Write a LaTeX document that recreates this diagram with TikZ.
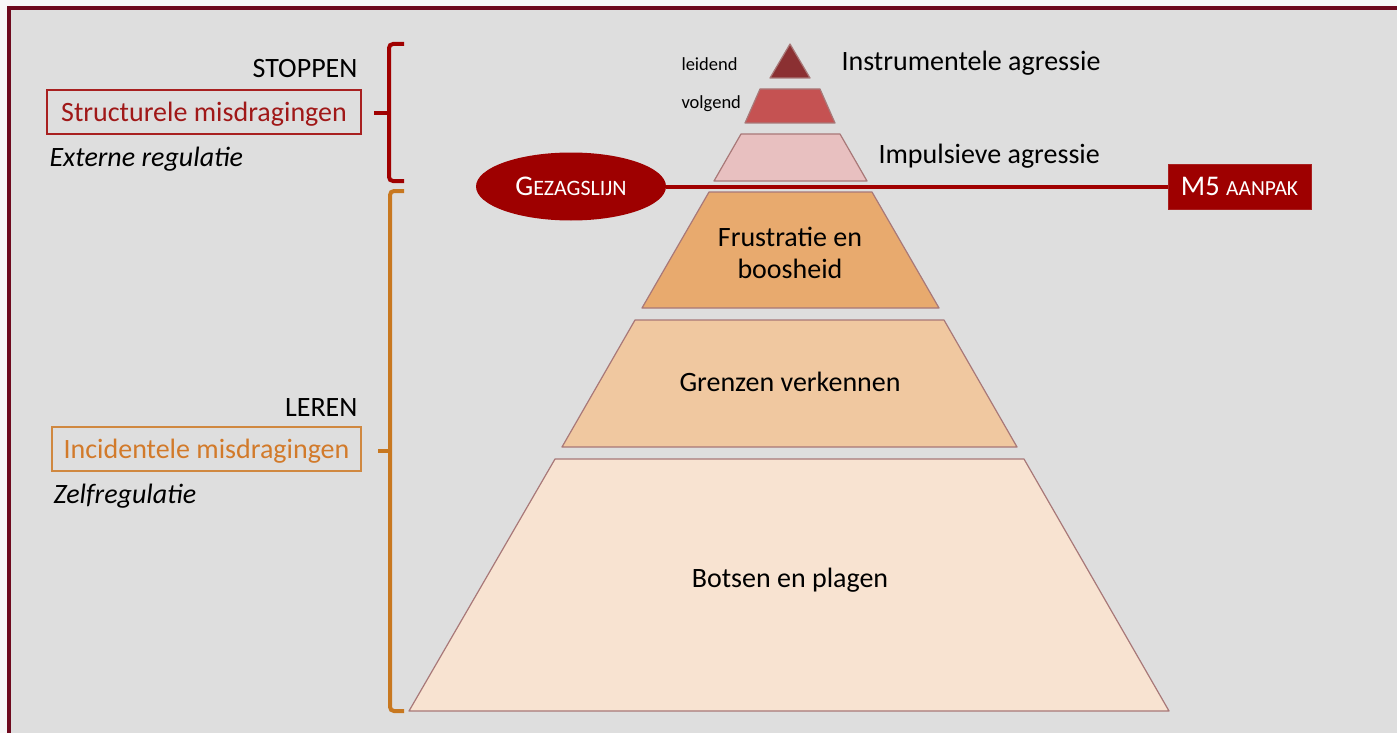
\documentclass[tikz,border=0pt]{standalone}
\usepackage{fontspec}
\setmainfont{Carlito}
\usetikzlibrary{shapes.geometric}
\definecolor{outerbg}{HTML}{F8F8F8}
\definecolor{frame}{HTML}{6E0A1E}
\definecolor{innerbg}{HTML}{DEDEDE}
\definecolor{cleid}{HTML}{8B3032}
\definecolor{cvolg}{HTML}{C55252}
\definecolor{cimp}{HTML}{E8C0C0}
\definecolor{cfrus}{HTML}{E8AA6E}
\definecolor{cgren}{HTML}{F0C8A0}
\definecolor{cbots}{HTML}{F8E3D1}
\definecolor{edge}{HTML}{A87878}
\definecolor{dred}{HTML}{9E0000}
\definecolor{bred}{HTML}{A00000}
\definecolor{bora}{HTML}{C87820}
\definecolor{tred}{HTML}{A01818}
\definecolor{tora}{HTML}{D27A2A}
\definecolor{boxred}{HTML}{A82020}
\definecolor{boxora}{HTML}{D08840}
\tikzset{
  layer/.style={draw=edge, line width=1.2pt, line join=round},
  big/.style={font=\fontsize{28}{32}\selectfont},
  bigit/.style={font=\fontsize{28}{32}\selectfont\itshape},
  small/.style={font=\fontsize{18.5}{22}\selectfont},
  bracered/.style={draw=bred, line width=4pt, rounded corners=4pt},
  braceora/.style={draw=bora, line width=4pt, rounded corners=4pt},
}
\begin{document}
\begin{tikzpicture}[x=1pt,y=-1pt]
\useasboundingbox (0,0) rectangle (1397,733);
\fill[outerbg] (0,0) rectangle (1397,733);
\fill[frame] (7,6) rectangle (1397,733);
\fill[innerbg] (11,10) rectangle (1397,733);
% pyramid layers
\filldraw[layer, fill=cleid] (790,44) -- (810,78) -- (770,78) -- cycle;
\filldraw[layer, fill=cvolg] (760,89) -- (820,89) -- (835,123) -- (745,123) -- cycle;
\filldraw[layer, fill=cimp] (741,134) -- (840,134) -- (867,181) -- (714,181) -- cycle;
\filldraw[layer, fill=cfrus] (709,192) -- (872,192) -- (939,308) -- (642,308) -- cycle;
\filldraw[layer, fill=cgren] (635,320) -- (944,320) -- (1017,447) -- (562,447) -- cycle;
\filldraw[layer, fill=cbots] (555,459) -- (1024,459) -- (1169,711) -- (409,711) -- cycle;
% layer texts
\node[small, anchor=west] (leid) at (678,64) {leidend};
\node[small, anchor=west] (volg) at (678,104) {volgend};
\node[big, anchor=west] (instr) at (838,63) {Instrumentele agressie};
\node[big, anchor=west] (impul) at (875,156) {Impulsieve agressie};
\node[big, align=center] (frus) at (790,253) {Frustratie en\\boosheid};
\node[big] (gren) at (790,382) {Grenzen verkennen};
\node[big] (bots) at (790,580) {Botsen en plagen};
% gezagslijn
\node[ellipse, fill=dred, minimum width=190pt, minimum height=68pt, inner sep=0pt, text=white] (gez) at (571,186.5)
  {{\fontsize{28.5}{30}\selectfont G}{\fontsize{22}{26}\selectfont EZAGSLIJN}};
\node[fill=dred, draw=boxred, minimum width=143pt, minimum height=45pt, inner sep=0pt, text=white] (m5) at (1239.5,186.5)
  {{\fontsize{28.5}{30}\selectfont M5 }{\fontsize{21.5}{26}\selectfont AANPAK}};
\draw[bred, line width=4pt] (gez.east) -- (m5.west);
% braces
\coordinate (rt) at (404,44);
\coordinate (rb) at (404,181);
\coordinate (rm) at (374,113);
\draw[bracered] (rt) -- (389,44) -- (389,181) -- (rb);
\draw[draw=bred, line width=4pt] (389,113) -- (rm);
\coordinate (ot) at (404,191);
\coordinate (ob) at (404,711);
\coordinate (om) at (378,451);
\draw[braceora] (ot) -- (390,191) -- (390,711) -- (ob);
\draw[draw=bora, line width=4pt] (390,451) -- (om);
% left labels
\node[big, anchor=east] (stop) at (361,69) {STOPPEN};
\node[draw=boxred, line width=1.2pt, minimum width=314pt, minimum height=44pt, inner sep=0pt] (struct) at (204,112) {};
\node[big, text=tred] (structt) at (204,114) {Structurele misdragingen};
\node[bigit, anchor=west] (ext) at (46,159) {Externe regulatie};
\node[big, anchor=east] (leren) at (361,408) {LEREN};
\node[draw=boxora, line width=1.2pt, minimum width=309pt, minimum height=44pt, inner sep=0pt] (incid) at (206.5,449) {};
\node[big, text=tora] (incidt) at (206.5,451) {Incidentele misdragingen};
\node[bigit, anchor=west] (zelf) at (50,496) {Zelfregulatie};
\end{tikzpicture}
\end{document}
